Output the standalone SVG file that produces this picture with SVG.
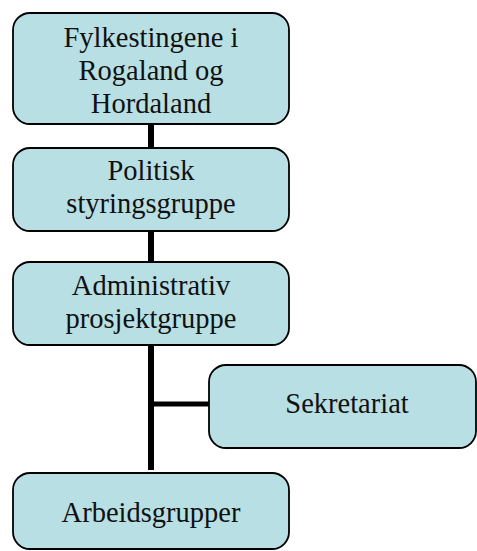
<svg xmlns="http://www.w3.org/2000/svg" width="477" height="551" viewBox="0 0 477 551">
<style>
.box{fill:#b8dfe3;stroke:#000;stroke-width:1.8}
.t{font-family:'Liberation Serif','Times New Roman','DejaVu Serif',serif;font-size:28.5px;fill:#111;text-anchor:middle}
.c{stroke:#000;stroke-width:6;fill:none}
</style>
<rect width="477" height="551" fill="#fff"/>
<g id="connectors">
<line class="c" x1="151" y1="124" x2="151" y2="470"/>
<line class="c" x1="151" y1="404" x2="209" y2="404" style="stroke-width:5"/>
</g>
<g id="fylkestingene">
<rect class="box" x="13" y="13" width="276" height="111" rx="17"/>
<text class="t" x="151" y="47" font-family="Liberation Serif, serif">Fylkestingene i</text>
<text class="t" x="151" y="80">Rogaland og</text>
<text class="t" x="151" y="113">Hordaland</text>
</g>
<g id="politisk">
<rect class="box" x="13" y="148" width="276" height="83" rx="17"/>
<text class="t" x="151" y="180">Politisk</text>
<text class="t" x="151" y="213">styringsgruppe</text>
</g>
<g id="administrativ">
<rect class="box" x="13" y="262" width="276" height="83" rx="17"/>
<text class="t" x="151" y="295">Administrativ</text>
<text class="t" x="151" y="328">prosjektgruppe</text>
</g>
<g id="sekretariat">
<rect class="box" x="209" y="365" width="267" height="83" rx="17"/>
<text class="t" x="347" y="413">Sekretariat</text>
</g>
<g id="arbeidsgrupper">
<rect class="box" x="13" y="473" width="276" height="76" rx="17"/>
<text class="t" x="151" y="522">Arbeidsgrupper</text>
</g>
</svg>
